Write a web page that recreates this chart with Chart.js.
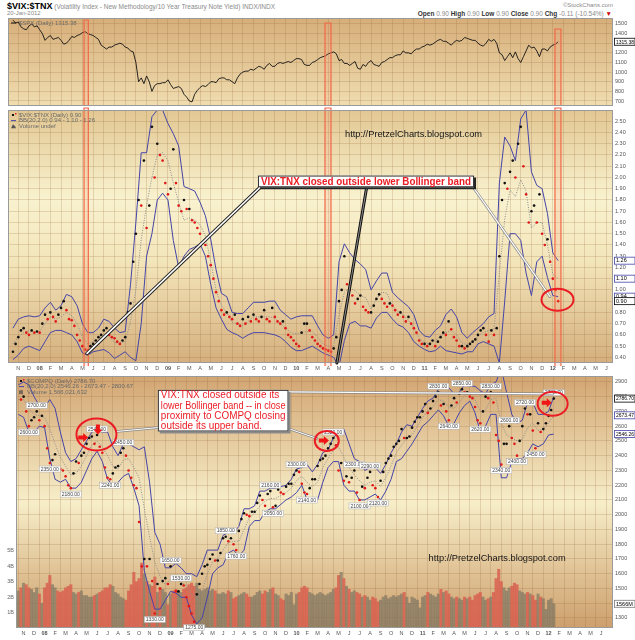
<!DOCTYPE html>
<html>
<head>
<meta charset="utf-8">
<title>$VIX:$TNX</title>
<script src="https://cdn.jsdelivr.net/npm/chart.js@4.4.1/dist/chart.umd.min.js"></script>
<style>
  body { margin:0; width:635px; height:640px; background:#fff; position:relative; overflow:hidden;
         font-family:"Liberation Sans", Arial, sans-serif; }
  canvas { position:absolute; left:0; }
  .hd { position:absolute; white-space:nowrap; color:#8a8a8a; font-size:6.5px; }
  .hd b { color:#333; }
</style>
</head>
<body>
<div class="hd" style="left:7px;top:1px"><b style="font-size:9px;color:#000">$VIX:$TNX</b> (Volatility Index - New Methodology/10 Year Treasury Note Yield) INDX/INDX</div>
<div class="hd" style="left:7px;top:10px;font-size:6px">20-Jan-2012</div>
<div class="hd" style="right:22px;top:2px;font-size:6px">&copy;StockCharts.com</div>
<div class="hd" style="right:23px;top:10px;font-size:6.5px"><b>Open</b> 0.90 <b>High</b> 0.90 <b>Low</b> 0.90 <b>Close</b> 0.90 <b>Chg</b> -0.11 (-10.54%) <span style="color:#c00">&#9660;</span></div>
<canvas id="spx" width="635" height="88" style="top:18px"></canvas>
<canvas id="ratio" width="635" height="266" style="top:106px"></canvas>
<canvas id="compq" width="635" height="268" style="top:372px"></canvas>
<script>
// weekly closes, first value = mid-Oct 2007, one value per quarter month
const spx = [
  1540, 1510,
  1520, 1470, 1450, 1440,  1480, 1500, 1470, 1480,  1440, 1400, 1330, 1360,
  1380, 1340, 1350, 1360,  1330, 1290, 1300, 1330,  1370, 1360, 1380, 1390,
  1410, 1420, 1400, 1390,  1380, 1360, 1340, 1280,  1260, 1240, 1260, 1260,
  1280, 1290, 1300, 1290,  1260, 1250, 1220, 1210,  1100, 900, 940, 880,
  960, 900, 800, 860,      880, 880, 890, 890,      920, 870, 830, 840,
  850, 830, 770, 740,      700, 690, 770, 810,      840, 860, 850, 870,
  900, 900, 890, 930,      940, 940, 920, 920,      900, 880, 940, 980,
  1000, 1010, 1010, 1030,  1020, 1040, 1060, 1050,  1030, 1070, 1090, 1060,
  1060, 1090, 1100, 1090,  1100, 1110, 1100, 1120,  1140, 1140, 1130, 1080,
  1070, 1070, 1100, 1110,  1130, 1150, 1160, 1170,  1190, 1200, 1210, 1190,
  1120, 1130, 1090, 1090,  1070, 1090, 1110, 1040,  1030, 1080, 1060, 1100,
  1120, 1080, 1070, 1060,  1100, 1110, 1130, 1150,  1150, 1170, 1180, 1180,
  1220, 1200, 1200, 1190,  1220, 1240, 1240, 1260,  1270, 1290, 1280, 1290,
  1310, 1330, 1340, 1320,  1320, 1300, 1280, 1310,  1330, 1320, 1330, 1360,
  1350, 1340, 1330, 1330,  1300, 1280, 1270, 1300,  1340, 1320, 1340, 1300,
  1200, 1180, 1120, 1160,  1200, 1150, 1210, 1140,  1100, 1160, 1220, 1280,
  1250, 1260, 1220, 1160,  1240, 1240, 1220, 1260,
  1280, 1290, 1315.38
];
const ratio = [
  0.45, 0.52,
  0.58, 0.64, 0.66, 0.62,  0.60, 0.64, 0.62, 0.63,  0.62, 0.70, 0.78, 0.74,
  0.80, 0.76, 0.72, 0.78,  0.84, 0.90, 0.82, 0.74,  0.73, 0.68, 0.60, 0.55,
  0.50, 0.47, 0.46, 0.50,  0.52, 0.55, 0.58, 0.60,  0.64, 0.66, 0.60, 0.58,
  0.57, 0.54, 0.52, 0.55,  0.58, 0.80, 0.88, 1.25,  1.50, 1.80, 1.75, 2.15,
  1.55, 1.75, 2.45, 2.00,  2.30, 2.20, 2.15, 1.95,  1.85, 1.90, 2.25, 1.95,
  1.75, 1.70, 1.80, 1.72,  1.72, 1.62, 1.60, 1.55,  1.50, 1.42, 1.40, 1.30,
  1.22, 1.10, 0.98, 0.90,  0.82, 0.78, 0.80, 0.76,  0.74, 0.78, 0.70, 0.68,
  0.74, 0.70, 0.76, 0.72,  0.78, 0.74, 0.72, 0.76,  0.82, 0.74, 0.72, 0.84,
  0.76, 0.72, 0.70, 0.72,  0.66, 0.60, 0.58, 0.55,  0.52, 0.50, 0.62, 0.70,
  0.70, 0.64, 0.58, 0.55,  0.52, 0.50, 0.48, 0.47,  0.46, 0.45, 0.48, 0.58,
  0.90, 1.00, 1.30, 1.05,  1.00, 0.95, 0.88, 0.92,  0.95, 0.85, 0.82, 0.80,
  0.80, 0.86, 0.92, 0.96,  0.92, 0.88, 0.85, 0.88,  0.86, 0.82, 0.78, 0.80,
  0.76, 0.72, 0.76, 0.70,  0.66, 0.62, 0.55, 0.52,  0.52, 0.50, 0.52, 0.55,
  0.50, 0.54, 0.58, 0.62,  0.60, 0.72, 0.65, 0.58,  0.55, 0.50, 0.50, 0.48,
  0.50, 0.52, 0.54, 0.56,  0.60, 0.64, 0.66, 0.60,  0.54, 0.64, 0.60, 0.66,
  1.30, 1.80, 1.95, 1.90,  2.05, 2.15, 2.00, 2.30,  2.45, 2.10, 1.85, 1.60,
  1.70, 1.75, 1.60, 1.85,  1.50, 1.40, 1.45, 1.25,
  1.10, 1.00, 0.90
];
const compq = [
  2800, 2780,
  2800, 2700, 2600, 2640,  2660, 2700, 2640, 2670,  2600, 2450, 2350, 2370,
  2410, 2320, 2310, 2300,  2260, 2200, 2180, 2280,  2360, 2350, 2400, 2420,
  2480, 2520, 2530, 2480,  2540, 2460, 2420, 2320,  2250, 2240, 2280, 2320,
  2330, 2420, 2450, 2400,  2300, 2250, 2200, 2180,  1950, 1650, 1700, 1650,
  1700, 1550, 1330, 1530,  1500, 1550, 1570, 1530,  1650, 1560, 1480, 1480,
  1530, 1520, 1440, 1380,  1330, 1275, 1460, 1530,  1600, 1650, 1660, 1700,
  1730, 1690, 1690, 1740,  1840, 1850, 1820, 1840,  1800, 1760, 1890, 1970,
  2010, 2000, 1990, 2020,  2020, 2080, 2130, 2100,  2060, 2140, 2160, 2050,
  2060, 2170, 2150, 2140,  2190, 2210, 2210, 2270,  2300, 2290, 2210, 2150,
  2140, 2180, 2240, 2240,  2330, 2370, 2380, 2400,  2450, 2480, 2520, 2470,
  2300, 2350, 2230, 2260,  2220, 2250, 2300, 2150,  2100, 2190, 2180, 2250,
  2290, 2200, 2180, 2120,  2230, 2290, 2350, 2380,  2400, 2460, 2480, 2500,
  2580, 2520, 2520, 2530,  2590, 2630, 2660, 2660,  2700, 2750, 2690, 2720,
  2770, 2800, 2830, 2740,  2750, 2700, 2640, 2740,  2790, 2760, 2820, 2850,
  2830, 2830, 2800, 2790,  2730, 2640, 2620, 2700,  2800, 2790, 2830, 2760,
  2540, 2500, 2340, 2480,  2480, 2600, 2520, 2480,  2400, 2500, 2600, 2720,
  2680, 2680, 2570, 2450,  2620, 2560, 2580, 2620,
  2670, 2710, 2786.70
];
// COMPQ daily volume, billions of shares
const volume = [
  2.4, 2.6,
  2.9, 2.8, 2.6, 2.5,  2.3, 2.6, 2.2, 1.6,  2.6, 2.9, 3.4, 2.8,
  2.6, 2.4, 2.3, 2.4,  2.6, 2.7, 2.8, 2.3,  2.2, 2.3, 2.4, 2.1,
  2.1, 2.0, 2.0, 2.1,  2.2, 2.3, 2.4, 2.6,  2.6, 2.8, 2.7, 2.3,
  2.2, 2.0, 1.9, 1.8,  2.4, 2.8, 3.6, 3.0,  3.2, 4.2, 3.5, 3.0,
  2.8, 2.7, 3.3, 2.3,  2.6, 2.5, 2.3, 1.5,  2.2, 2.4, 2.5, 2.4,
  2.3, 2.5, 2.6, 2.8,  2.9, 2.7, 2.9, 2.5,  2.4, 2.5, 2.6, 2.4,
  2.5, 2.4, 2.2, 2.2,  2.3, 2.2, 2.4, 2.3,  1.9, 2.0, 2.1, 2.2,
  2.3, 2.2, 2.0, 2.0,  2.1, 2.3, 2.4, 2.2,  2.4, 2.3, 2.5, 2.6,
  2.2, 2.1, 1.9, 1.8,  2.2, 2.1, 2.3, 1.5,  2.2, 2.3, 2.6, 2.7,
  2.6, 2.3, 2.2, 2.1,  2.2, 2.3, 2.2, 2.1,  2.2, 2.3, 2.5, 2.6,
  3.4, 3.6, 3.2, 2.7,  2.5, 2.3, 2.4, 2.3,  2.2, 2.0, 2.1, 2.0,
  1.8, 2.0, 1.9, 1.7,  1.8, 2.0, 2.1, 1.9,  2.0, 2.1, 2.0, 2.1,
  2.2, 2.3, 2.0, 1.6,  2.0, 1.9, 1.8, 1.3,  2.0, 2.1, 2.3, 2.2,
  2.1, 2.0, 2.2, 2.5,  2.3, 2.4, 2.2, 2.0,  1.9, 2.0, 1.9, 1.8,
  2.0, 1.9, 2.0, 1.8,  2.1, 2.2, 2.3, 2.0,  1.8, 1.9, 2.0, 2.3,
  3.2, 3.8, 3.0, 2.6,  2.4, 2.6, 2.7, 2.9,  2.8, 2.4, 2.3, 2.2,
  2.3, 2.2, 2.1, 1.8,  2.2, 2.0, 1.9, 1.2,
  1.8, 1.9, 1.566
];

// Bollinger bands (20,2), one value per half month from mid-Oct 2007
const ratioUpper = [
  .66,.74,.76,.77,.76,.77,.84,.89,.82,.86,.96,.94,
  .86,.70,.62,.62,.66,.74,.72,.66,.62,.63,1.05,1.60,
  2.22,2.22,2.54,2.60,2.60,2.48,2.39,2.28,1.92,1.90,1.88,1.78,
  1.66,1.45,1.18,.97,.94,.80,.79,.79,.84,.89,.89,.89,
  .90,.90,.82,.78,.74,.76,.77,.77,.77,.68,.60,.57,
  .60,1.25,1.41,1.33,1.27,1.23,1.18,1.00,1.08,1.15,1.15,.98,
  .93,.89,.85,.78,.64,.59,.58,.64,.68,.78,.83,.76,
  .62,.57,.62,.66,.70,.76,.79,1.95,2.36,2.28,2.15,2.52,
  2.60,2.05,1.93,1.90,1.68,1.33,1.26
];
const ratioMid = [
  .52,.58,.62,.64,.62,.63,.70,.76,.74,.76,.80,.77,
  .70,.58,.52,.54,.56,.61,.59,.53,.53,.54,.72,1.00,
  1.45,1.75,2.00,2.20,2.22,2.15,1.95,1.78,1.62,1.64,1.62,1.58,
  1.48,1.25,1.00,.86,.80,.71,.70,.68,.72,.76,.76,.76,
  .76,.75,.70,.66,.62,.61,.62,.63,.63,.58,.52,.50,
  .50,.78,.98,1.02,.99,.95,.93,.83,.92,.98,.97,.86,
  .81,.78,.73,.66,.57,.53,.52,.55,.59,.62,.64,.60,
  .53,.51,.54,.59,.62,.64,.65,1.15,1.63,1.89,1.83,1.98,
  1.88,1.55,1.60,1.60,1.40,1.14,1.10
];
const ratioLower = [
  .38,.42,.48,.50,.48,.46,.54,.62,.64,.64,.62,.60,
  .54,.44,.42,.45,.46,.47,.44,.39,.42,.45,.40,.37,
  .70,1.30,1.50,1.80,1.86,1.80,1.44,1.20,1.30,1.36,1.38,1.41,
  1.30,1.05,.84,.74,.65,.62,.60,.57,.60,.62,.62,.62,
  .61,.60,.58,.54,.49,.46,.46,.48,.50,.47,.44,.42,
  .40,.32,.55,.70,.72,.68,.68,.66,.75,.80,.80,.74,
  .69,.67,.62,.54,.50,.47,.45,.46,.50,.46,.45,.44,
  .43,.45,.45,.52,.54,.52,.50,.35,.90,1.50,1.50,1.44,
  1.15,.95,1.25,1.30,1.11,.95,.94
];
const compUpper = [
  2880,
  2900,2880, 2800,2740, 2730,2780, 2720,2560, 2420,2360, 2380,2440, 2500,2560,
  2570,2560, 2560,2460, 2400,2480, 2480,2460, 2440,2460, 2220,1880, 1800,1640,
  1640,1670, 1640,1600, 1600,1580, 1660,1760, 1760,1760, 1860,1880, 1880,1920,
  2040,2040, 2060,2160, 2160,2180, 2180,2190, 2200,2240, 2310,2320, 2340,2290,
  2340,2420, 2440,2520, 2560,2580, 2480,2380, 2360,2300, 2320,2320, 2280,2340,
  2420,2480, 2560,2610, 2600,2660, 2720,2770, 2790,2850, 2870,2860, 2820,2830,
  2880,2870, 2870,2840, 2820,2880, 2900,2990, 2830,2680, 2620,2640, 2760,2760,
  2680,2680, 2700,2800.67
];
const compMid = [
  2780,
  2780,2720, 2680,2670, 2660,2580, 2480,2390, 2330,2270, 2280,2330, 2400,2470,
  2500,2460, 2400,2330, 2310,2370, 2380,2320, 2250,2040, 1850,1680, 1580,1530,
  1560,1570, 1540,1520, 1460,1420, 1480,1600, 1680,1700, 1760,1810, 1820,1820,
  1900,1980, 2010,2060, 2090,2110, 2110,2130, 2150,2180, 2230,2260, 2220,2190,
  2220,2320, 2380,2440, 2460,2390, 2320,2270, 2230,2200, 2220,2230, 2190,2250,
  2330,2420, 2470,2520, 2540,2600, 2660,2700, 2730,2780, 2770,2730, 2720,2760,
  2810,2820, 2780,2700, 2710,2780, 2790,2620, 2540,2520, 2500,2510, 2590,2620,
  2570,2580, 2620,2673.47
];
const compLower = [
  2680,
  2660,2560, 2560,2600, 2590,2380, 2240,2220, 2240,2180, 2180,2220, 2300,2380,
  2430,2360, 2240,2200, 2220,2260, 2280,2180, 2060,1620, 1480,1360, 1360,1420,
  1480,1470, 1440,1440, 1320,1260, 1300,1440, 1600,1640, 1660,1740, 1760,1720,
  1760,1920, 1960,1960, 2020,2040, 2040,2070, 2100,2120, 2150,2200, 2100,2090,
  2100,2220, 2320,2360, 2360,2200, 2160,2160, 2100,2100, 2120,2140, 2100,2160,
  2240,2360, 2380,2430, 2480,2540, 2600,2630, 2670,2710, 2670,2600, 2620,2690,
  2740,2770, 2690,2560, 2600,2680, 2680,2250, 2250,2360, 2380,2380, 2420,2480,
  2460,2480, 2540,2546.26
];

// axis ticks
const spxTicks = [700, 800, 900, 1000, 1100, 1200, 1300, 1400, 1500];
const ratioTicks = [0.4, 0.5, 0.6, 0.7, 0.8, 0.9, 1.0, 1.1, 1.2, 1.3, 1.4, 1.5, 1.6, 1.7, 1.8, 1.9, 2.0, 2.1, 2.2, 2.3, 2.4, 2.5];
const compTicks = [1300, 1400, 1500, 1600, 1700, 1800, 1900, 2000, 2100, 2200, 2300, 2400, 2500, 2600, 2700, 2800, 2900];
const volTicks = [1, 2, 3, 4, 5];
const monthLetters = ['J', 'F', 'M', 'A', 'M', 'J', 'J', 'A', 'S', 'O', 'N', 'D'];
const firstMonth = 10, firstYear = 2007, monthCount = 56;   // Nov 2007 .. Jun 2012

// swing points that get a price label on the COMPQ panel (week index, high/low)
const priceLabels = [[7,'h'],[4,'l'],[12,'l'],[20,'l'],[30,'h'],[35,'l'],[40,'h'],[52,'l'],[58,'h'],[62,'h'],
  [67,'l'],[79,'h'],[83,'l'],[96,'h'],[97,'l'],[106,'h'],[110,'l'],[120,'h'],[128,'h'],[130,'l'],[134,'h'],
  [137,'l'],[160,'h'],[164,'l'],[169,'h'],[176,'l'],[180,'h'],[184,'l'],[187,'h'],[190,'l'],[193,'h'],[197,'l'],[204,'h']];

// x is counted in months from 1-Nov-2007
const START = -0.5;
const weekX = i => START + i * 0.25;
const halfX = i => START + i * 0.5;
const pts = (arr, fx) => arr.map((v, i) => ({ x: fx(i), y: v }));
const last = a => a[a.length - 1];

const X_MIN = -0.963, X_MAX = 55.63;       // plot spans page x 8..613
const X3_MIN = X_MIN + 8 * (X_MAX - X_MIN) / 605; // bottom panel starts at x 16

const FONT = '"Liberation Sans", Arial, sans-serif';
Chart.defaults.font.family = FONT;
const GRID = 'rgba(140,100,55,0.26)';
const BAND = '#4545a8';
const RED = '#ec1c24';

function noPad(s) { s.paddingTop = 0; s.paddingBottom = 0; s.paddingLeft = 0; s.paddingRight = 0; }

function xScale(min, labelHeight) {
  return {
    type: 'linear', min, max: X_MAX,
    afterBuildTicks: s => {
      s.ticks = [];
      for (let i = 0; i < monthCount; i++) if (i >= s.min && i <= s.max) s.ticks.push({ value: i });
    },
    ticks: {
      display: labelHeight > 0, autoSkip: false, maxRotation: 0, minRotation: 0, padding: 2, color: '#555',
      font: c => ({ size: 5.5, weight: c.tick && (firstMonth + c.tick.value) % 12 === 0 ? 'bold' : 'normal' }),
      callback: v => {
        const m = (firstMonth + v) % 12;
        if (m !== 0) return monthLetters[m];
        return String((firstYear + Math.floor((firstMonth + v) / 12)) % 100).padStart(2, '0');
      }
    },
    grid: { color: GRID, drawTicks: false, lineWidth: 0.8 },
    border: { display: false },
    afterFit: s => { s.height = labelHeight; noPad(s); }
  };
}

function yScale(min, max, ticks, fmt) {
  return {
    type: 'linear', position: 'right', min, max,
    afterBuildTicks: s => { s.ticks = ticks.map(v => ({ value: v })); },
    ticks: { color: '#555', padding: 2, font: { size: 5.5 }, callback: fmt },
    grid: { color: GRID, drawTicks: false, lineWidth: 0.8 },
    border: { display: false },
    afterFit: s => { s.width = 22; noPad(s); }
  };
}

const panelBg = stops => ({
  id: 'panelBg',
  beforeDraw(chart) {
    const { ctx, chartArea: a } = chart;
    const g = ctx.createLinearGradient(0, a.top, 0, a.bottom);
    stops.forEach(([p, c]) => g.addColorStop(p, c));
    ctx.save(); ctx.fillStyle = g; ctx.fillRect(a.left, a.top, a.right - a.left, a.bottom - a.top); ctx.restore();
  }
});

const frame = {
  id: 'frame',
  afterDraw(chart) {
    const { ctx, chartArea: a } = chart;
    ctx.save(); ctx.strokeStyle = '#9a9a9a'; ctx.lineWidth = 1;
    ctx.strokeRect(a.left + 0.5, a.top + 0.5, a.right - a.left - 1, a.bottom - a.top - 1);
    ctx.restore();
  }
};

// orange marker columns (start, end, top value or null for full height)
const hlStart = [6.15, 28.69, 50.2], hlEnd = [6.55, 29.25, 50.76];
const highlights = (tops, extra) => ({
  id: 'highlights',
  afterDatasetsDraw(chart) {
    const { ctx, chartArea: a, scales: { x, y } } = chart;
    ctx.save();
    hlStart.forEach((t0, k) => {
      const x0 = x.getPixelForValue(t0), x1 = x.getPixelForValue(hlEnd[k]);
      const y0 = tops ? y.getPixelForValue(tops[k]) : a.top - 2;
      const y1 = a.bottom + extra;
      ctx.fillStyle = 'rgba(250,140,110,0.16)'; ctx.fillRect(x0, y0, x1 - x0, y1 - y0);
      ctx.strokeStyle = '#f06848'; ctx.lineWidth = 1.2;
      ctx.beginPath(); ctx.moveTo(x0, y1); ctx.lineTo(x0, y0); ctx.lineTo(x1, y0); ctx.lineTo(x1, y1); ctx.stroke();
    });
    ctx.restore();
  }
});

function fitText(ctx, text, x, y, maxW) {
  const w = ctx.measureText(text).width;
  const s = w > maxW ? maxW / w : 1;
  ctx.save(); ctx.translate(x, y); ctx.scale(s, 1); ctx.fillText(text, 0, 0); ctx.restore();
}

const legendRows = rows => ({
  id: 'legendRows',
  afterDraw(chart) {
    const { ctx, chartArea: a } = chart;
    ctx.save(); ctx.font = '6px ' + FONT; ctx.textBaseline = 'middle';
    rows.forEach((r, k) => {
      const y = a.top + 5 + k * 5.6, x = a.left + 3;
      ctx.fillStyle = r.c; ctx.strokeStyle = r.c; ctx.lineWidth = 1;
      if (r.s === 'line') { ctx.beginPath(); ctx.moveTo(x, y); ctx.lineTo(x + 5, y); ctx.stroke(); }
      else if (r.s === 'dot') { ctx.fillRect(x + 1, y - 1, 2, 2); ctx.fillStyle = RED; ctx.fillRect(x + 4, y - 2, 1.5, 1.5); }
      else if (r.s === 'mount') { ctx.beginPath(); ctx.moveTo(x, y + 2); ctx.lineTo(x + 2, y - 2); ctx.lineTo(x + 4, y); ctx.lineTo(x + 5, y + 2); ctx.fill(); }
      else { ctx.fillRect(x, y - 2, 4, 4); }
      ctx.fillStyle = '#6a6a6a'; ctx.fillText(r.t, x + 8, y);
    });
    ctx.restore();
  }
});

const valueTags = list => ({
  id: 'valueTags',
  afterDraw(chart) {
    const { ctx, chartArea: a } = chart;
    ctx.save(); ctx.font = '5.5px ' + FONT; ctx.textBaseline = 'middle';
    list.forEach(t => {
      const y = chart.scales[t.axis].getPixelForValue(t.value);
      ctx.fillStyle = '#fff'; ctx.fillRect(a.right + 1, y - 3.5, 21, 7);
      ctx.strokeStyle = t.c; ctx.lineWidth = 0.8; ctx.strokeRect(a.right + 1.5, y - 3.5, 20.5, 7);
      ctx.fillStyle = '#000'; fitText(ctx, t.t, a.right + 3, y + 0.3, 18);
    });
    ctx.restore();
  }
});

// volume axis labels on the left edge of the bottom panel
const volLabels = {
  id: 'volLabels',
  afterDraw(chart) {
    const { ctx, chartArea: a, scales: { yv } } = chart;
    ctx.save(); ctx.font = '5.5px ' + FONT; ctx.fillStyle = '#666';
    ctx.textAlign = 'right'; ctx.textBaseline = 'middle';
    volTicks.forEach(v => ctx.fillText(v + 'B', a.left - 2, yv.getPixelForValue(v)));
    ctx.restore();
  }
};

function pipe(ctx, a, b, outer, inner, wo, wi) {
  ctx.lineCap = 'round';
  [[outer, wo], [inner, wi]].forEach(([c, w]) => {
    ctx.strokeStyle = c; ctx.lineWidth = w;
    ctx.beginPath(); ctx.moveTo(a[0], a[1]); ctx.lineTo(b[0], b[1]); ctx.stroke();
  });
}
function ring(ctx, c, rx, ry) {
  ctx.strokeStyle = RED; ctx.lineWidth = 2;
  ctx.beginPath(); ctx.ellipse(c[0], c[1], rx, ry, 0, 0, Math.PI * 2); ctx.stroke();
}
function arrow(ctx, c, dir) {
  const [x, y] = c;
  ctx.fillStyle = '#f01414'; ctx.beginPath();
  if (dir === 'r') {
    ctx.moveTo(x - 5, y - 2); ctx.lineTo(x, y - 2); ctx.lineTo(x, y - 4.5); ctx.lineTo(x + 5, y);
    ctx.lineTo(x, y + 4.5); ctx.lineTo(x, y + 2); ctx.lineTo(x - 5, y + 2);
  } else {
    ctx.moveTo(x - 2, y - 5); ctx.lineTo(x - 2, y); ctx.lineTo(x - 4.5, y); ctx.lineTo(x, y + 5);
    ctx.lineTo(x + 4.5, y); ctx.lineTo(x + 2, y); ctx.lineTo(x + 2, y - 5);
  }
  ctx.closePath(); ctx.fill();
}
function noteBox(ctx, p0, p1, shadow) {
  const w = p1[0] - p0[0], h = p1[1] - p0[1];
  ctx.fillStyle = shadow; ctx.fillRect(p0[0] + 2, p0[1] + 2, w, h);
  ctx.fillStyle = '#fff'; ctx.fillRect(p0[0], p0[1], w, h);
  ctx.strokeStyle = '#333'; ctx.lineWidth = 1; ctx.strokeRect(p0[0] + 0.5, p0[1] + 0.5, w - 1, h - 1);
}
function watermark(ctx, c) {
  ctx.font = '9.5px ' + FONT; ctx.fillStyle = '#151515'; ctx.textAlign = 'center'; ctx.textBaseline = 'middle';
  fitText(ctx, 'http://PretzelCharts.blogspot.com', c[0], c[1], 137);
}

const ratioNotes = {
  id: 'ratioNotes',
  afterDraw(chart) {
    const { ctx, scales: { x, y } } = chart;
    const p = (t, v) => [x.getPixelForValue(t), y.getPixelForValue(v)];
    ctx.save();
    watermark(ctx, p(36.97, 2.38));
    pipe(ctx, p(22.7, 1.92), p(6.43, 0.435), '#222', '#fff', 3.6, 1.6);
    pipe(ctx, p(32.6, 1.92), p(29.8, 0.35), '#111', '#888', 3, 1);
    pipe(ctx, p(42.5, 1.92), p(49.74, 0.94), '#888', '#fff', 2.6, 1.2);
    const b0 = p(22.42, 2.017), b1 = p(42.63, 1.913);
    noteBox(ctx, b0, b1, '#222');
    ctx.font = 'bold 11px ' + FONT; ctx.fillStyle = RED; ctx.textAlign = 'center'; ctx.textBaseline = 'middle';
    fitText(ctx, 'VIX:TNX closed outside lower Bollinger band', (b0[0] + b1[0]) / 2, (b0[1] + b1[1]) / 2 + 0.5, b1[0] - b0[0] - 6);
    ring(ctx, p(50.44, 0.913), 16, 11);
    ctx.restore();
  }
};

const compNotes = {
  id: 'compNotes',
  afterDraw(chart) {
    const { ctx, scales: { x, y } } = chart;
    const p = (t, v) => [x.getPixelForValue(t), y.getPixelForValue(v)];
    ctx.save();
    // price labels at swing highs and lows
    ctx.font = '5px ' + FONT; ctx.textAlign = 'center'; ctx.textBaseline = 'middle';
    priceLabels.forEach(([i, kind]) => {
      const [px, py] = p(weekX(i), compq[i]);
      const txt = compq[i].toFixed(2), w = ctx.measureText(txt).width + 3;
      const cy = kind === 'h' ? py - 6 : py + 6;
      ctx.fillStyle = '#fff'; ctx.fillRect(px - w / 2, cy - 3, w, 6);
      ctx.strokeStyle = '#aaa'; ctx.lineWidth = 0.5; ctx.strokeRect(px - w / 2, cy - 3, w, 6);
      ctx.fillStyle = '#444'; ctx.fillText(txt, px, cy + 0.3);
    });
    watermark(ctx, p(45.1, 1703));
    pipe(ctx, p(8.86, 2564), p(12.88, 2591), '#888', '#fff', 2.4, 1);
    pipe(ctx, p(25.2, 2584), p(27.94, 2517), '#888', '#fff', 2.4, 1);
    pipe(ctx, p(25.2, 2832), p(50.39, 2819), '#888', '#fff', 2.6, 1.2);
    const b0 = p(12.79, 2846), b1 = p(25.23, 2564);
    noteBox(ctx, b0, b1, '#8a8a8a');
    ctx.font = '10px ' + FONT; ctx.fillStyle = RED; ctx.textAlign = 'left'; ctx.textBaseline = 'middle';
    ['VIX:TNX closed outside its', 'lower Bollinger band -- in close', 'proximity to COMPQ closing', 'outside its upper band.']
      .forEach((line, k) => fitText(ctx, line, b0[0] + 3, b0[1] + 5.5 + k * 10.4, b1[0] - b0[0] - 6));
    ring(ctx, p(6.94, 2544), 20, 16);
    ring(ctx, p(28.88, 2500), 12, 10);
    ring(ctx, p(50.39, 2752), 15, 12);
    arrow(ctx, p(5.68, 2523), 'r');
    arrow(ctx, p(7.08, 2577), 'd');
    arrow(ctx, p(28.6, 2503), 'r');
    arrow(ctx, p(49.83, 2759), 'r');
    ctx.restore();
  }
};

const dotColor = arr => c => (c.dataIndex > 0 && arr[c.dataIndex] < arr[c.dataIndex - 1]) ? '#e01818' : '#111';
const base = { responsive: false, animation: false, events: [], plugins: { legend: { display: false }, tooltip: { enabled: false } } };
const bandSet = (arr, color, dash, order) => ({
  data: pts(arr, halfX), borderColor: color, borderWidth: 1, borderDash: dash, pointRadius: 0, order
});

// ---- top panel: S&P 500 ----
new Chart(document.getElementById('spx'), {
  type: 'line',
  data: { datasets: [{ data: pts(spx, weekX), borderColor: '#111', borderWidth: 0.9, pointRadius: 0 }] },
  options: Object.assign({}, base, {
    layout: { padding: { left: 8, right: 0, top: 0, bottom: 0 } },
    scales: { x: xScale(X_MIN, 0), y: yScale(648, 1562, spxTicks, v => v) }
  }),
  plugins: [panelBg([[0, '#d6ae7a'], [1, '#f0ddb0']]), highlights([1541, 1510, 1448], 0), frame,
    legendRows([{ s: 'line', c: '#111', t: '$SPX (Daily) ' + last(spx).toFixed(2) }]),
    valueTags([{ axis: 'y', value: last(spx), t: last(spx).toFixed(2), c: '#000' }])]
});

// ---- middle panel: VIX:TNX with Bollinger bands ----
new Chart(document.getElementById('ratio'), {
  type: 'line',
  data: { datasets: [
    bandSet(ratioUpper, BAND, [], 2),
    bandSet(ratioMid, '#8d8d8d', [1, 1.5], 3),
    bandSet(ratioLower, BAND, [], 2),
    { data: pts(ratio, weekX), showLine: false, pointRadius: 1.3, pointBorderWidth: 0,
      pointBackgroundColor: dotColor(ratio), order: 0 }
  ] },
  options: Object.assign({}, base, {
    layout: { padding: { left: 8, right: 0, top: 0, bottom: 0 } },
    scales: { x: xScale(X_MIN, 9), y: yScale(0.35, 2.60, ratioTicks, v => v.toFixed(2)) }
  }),
  plugins: [panelBg([[0, '#e2c792'], [0.35, '#f9f2cf'], [0.6, '#f3e5ba'], [1, '#d5af7d']]), highlights(null, 3), frame,
    legendRows([
      { s: 'dot', c: '#111', t: '$VIX:$TNX (Daily) ' + last(ratio).toFixed(2) },
      { s: 'line', c: BAND, t: 'BB(20,2.0) ' + [last(ratioLower), last(ratioMid), last(ratioUpper)].map(v => v.toFixed(2)).join(' - ') },
      { s: 'mount', c: '#555', t: 'Volume undef' }
    ]),
    valueTags([
      { axis: 'y', value: last(ratioUpper), t: last(ratioUpper).toFixed(2), c: BAND },
      { axis: 'y', value: last(ratioMid), t: last(ratioMid).toFixed(2), c: BAND },
      { axis: 'y', value: last(ratioLower), t: last(ratioLower).toFixed(2), c: BAND },
      { axis: 'y', value: last(ratio), t: last(ratio).toFixed(2), c: '#000' }
    ]), ratioNotes]
});

// ---- bottom panel: Nasdaq Composite, bands and volume ----
new Chart(document.getElementById('compq'), {
  type: 'line',
  data: { datasets: [
    { type: 'bar', data: pts(volume, weekX), yAxisID: 'yv', barThickness: 2.4, order: 10,
      backgroundColor: c => (c.dataIndex > 0 && compq[c.dataIndex] < compq[c.dataIndex - 1]) ? 'rgba(216,96,80,0.85)' : 'rgba(128,118,98,0.7)' },
    bandSet(compUpper, BAND, [], 2),
    bandSet(compMid, '#8d8d8d', [1, 1.5], 3),
    bandSet(compLower, BAND, [], 2),
    { data: pts(compq, weekX), showLine: false, pointRadius: 1.3, pointBorderWidth: 0,
      pointBackgroundColor: dotColor(compq), order: 0 }
  ] },
  options: Object.assign({}, base, {
    layout: { padding: { left: 2, right: 0, top: 0, bottom: 0 } },
    scales: {
      x: xScale(X3_MIN, 12),
      y: yScale(1232, 2940, compTicks, v => v),
      yv: {
        type: 'linear', position: 'left', min: 0, max: 16.3,
        ticks: { display: false },
        grid: { display: false }, border: { display: false },
        afterFit: s => { s.width = 14; noPad(s); }
      }
    }
  }),
  plugins: [panelBg([[0, '#d2a572'], [0.5, '#f7eec9'], [1, '#cd9f6c']]), frame, volLabels,
    legendRows([
      { s: 'dot', c: '#111', t: '$COMPQ (Daily) ' + last(compq).toFixed(2) },
      { s: 'line', c: BAND, t: 'BB(20,2.0) ' + [last(compLower), last(compMid), last(compUpper)].map(v => v.toFixed(2)).join(' - ') },
      { s: 'sq', c: '#7d6958', t: 'Volume 1,566,021,632' }
    ]),
    valueTags([
      { axis: 'y', value: last(compq), t: last(compq).toFixed(2), c: '#000' },
      { axis: 'y', value: last(compMid), t: last(compMid).toFixed(2), c: BAND },
      { axis: 'y', value: last(compLower), t: last(compLower).toFixed(2), c: BAND },
      { axis: 'yv', value: last(volume), t: '1566M', c: '#777' }
    ]), compNotes]
});
</script>
</body>
</html>
